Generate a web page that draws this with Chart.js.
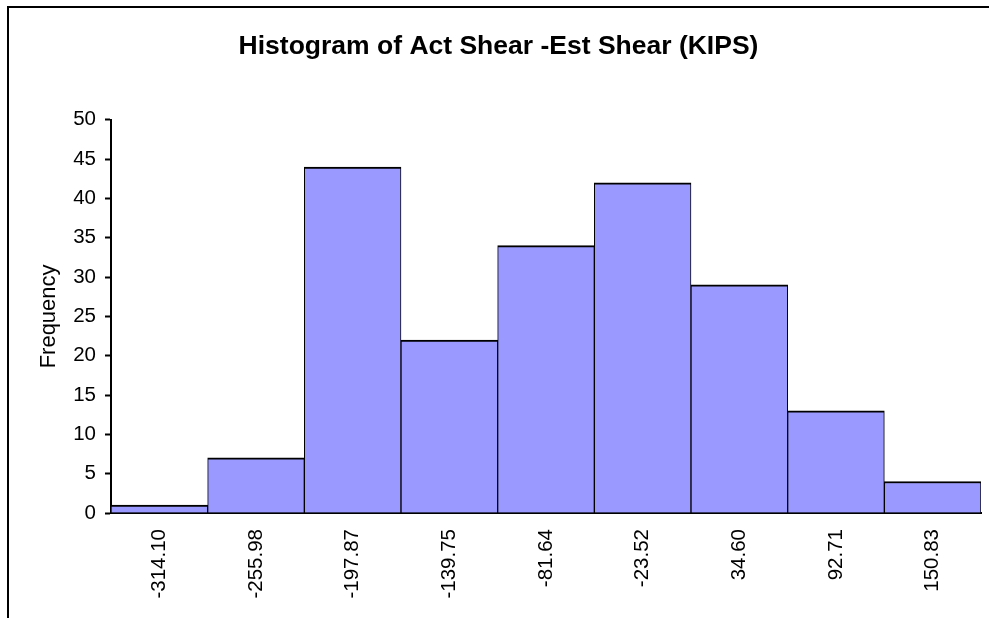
<!DOCTYPE html>
<html>
<head>
<meta charset="utf-8">
<script src="https://cdn.jsdelivr.net/npm/chart.js@4"></script>
<style>
  html, body { margin: 0; padding: 0; background: #fff; }
  #wrap { position: relative; width: 989px; height: 618px; }
</style>
</head>
<body>
<div id="wrap"><canvas id="histChart"></canvas></div>
<script>
const binLabels = ["-314.10", "-255.98", "-197.87", "-139.75", "-81.64", "-23.52", "34.60", "92.71", "150.83"];
const frequencies = [1, 7, 44, 22, 34, 42, 29, 13, 4];
const yMin = 0;
const yMax = 50;
const yStep = 5;

// outer chart border (only top and left show in the frame)
const frameBorder = {
  id: "frameBorder",
  beforeDraw(chart) {
    const ctx = chart.ctx;
    ctx.save();
    ctx.strokeStyle = "#000";
    ctx.lineWidth = 2;
    ctx.beginPath();
    ctx.moveTo(8, 640);
    ctx.lineTo(8, 7);
    ctx.lineTo(1000, 7);
    ctx.stroke();
    ctx.restore();
  }
};

Chart.defaults.font.family = "'Liberation Sans', Arial, sans-serif";
Chart.defaults.color = "#000";

new Chart(document.getElementById("histChart"), {
  type: "bar",
  data: {
    labels: binLabels,
    datasets: [
      {
        label: "Frequency",
        data: frequencies,
        backgroundColor: "#9999FF",
        borderColor: "#000",
        borderWidth: { top: 2, left: 1, right: 1, bottom: 0 },
        borderSkipped: false,
        categoryPercentage: 1.0,
        barPercentage: 1.0,
      },
    ],
  },
  options: {
    responsive: true,
    maintainAspectRatio: false,
    animation: false,
    layout: {
      padding: { left: 16, right: 8, top: 0, bottom: 0 },
    },
    plugins: {
      legend: { display: false },
      tooltip: { enabled: false },
      title: {
        display: true,
        text: "Histogram of Act Shear -Est Shear (KIPS)",
        color: "#000",
        font: { size: 26.5, weight: "bold" },
        padding: { top: 31, bottom: 57 },
      },
    },
    scales: {
      x: {
        grid: { display: false },
        border: { display: true, color: "#000", width: 2 },
        ticks: {
          color: "#000",
          font: { size: 20.5 },
          minRotation: 90,
          maxRotation: 90,
          padding: 8,
        },
        afterFit(scale) {
          scale.height = 105;
        },
      },
      y: {
        min: yMin,
        max: yMax,
        grid: {
          drawOnChartArea: false,
          drawTicks: true,
          tickLength: 6,
          color: "#000",
          tickWidth: 2,
        },
        border: { display: true, color: "#000", width: 2 },
        ticks: {
          stepSize: yStep,
          color: "#000",
          font: { size: 20.5 },
          padding: 9,
        },
        title: {
          display: true,
          text: "Frequency",
          color: "#000",
          font: { size: 22 },
          padding: { top: 20, bottom: 0 },
        },
        afterFit(scale) {
          scale.width = 95;
        },
      },
    },
  },
  plugins: [frameBorder],
});
</script>
</body>
</html>
